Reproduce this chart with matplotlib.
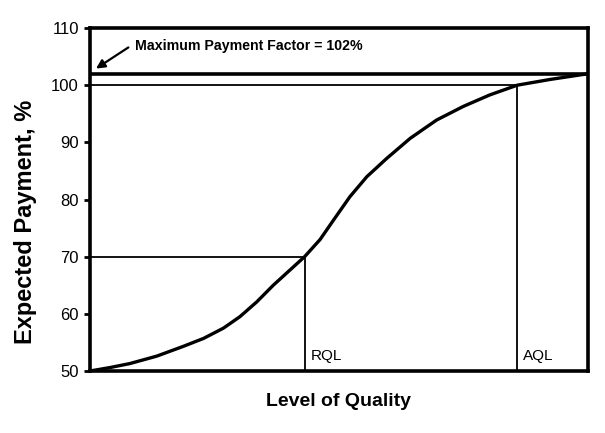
import matplotlib
matplotlib.use("Agg")
import matplotlib.pyplot as plt

plt.rcParams["font.family"] = ["Liberation Sans", "DejaVu Sans"]

# quality level (0-100 across the axis) vs expected payment (%)
quality = [0, 4.0, 8.0, 13.4, 18.7, 22.8, 26.8, 30.1, 33.5, 36.8, 40.2, 43.1,
           46.2, 48.9, 52.2, 55.6, 59.6, 64.3, 69.6, 75.0, 80.3, 85.8, 92.4, 100]
payment = [50, 50.6, 51.3, 52.6, 54.3, 55.7, 57.5, 59.5, 62.1, 65.0, 67.7, 70.0,
           73.0, 76.4, 80.5, 84.0, 87.2, 90.7, 93.9, 96.3, 98.3, 100.0, 101.0, 102.0]

rql_x, rql_y = 43.1, 70
aql_x, aql_y = 85.8, 100
max_pf = 102
yticks = [50, 60, 70, 80, 90, 100, 110]

fig = plt.figure(figsize=(6.05, 4.33), dpi=100)
ax = fig.add_axes([90 / 605, 62 / 433, 498 / 605, 343 / 433])

ax.plot(quality, payment, color="black", lw=2.4, solid_joinstyle="round",
        solid_capstyle="round")

# reference lines
ax.plot([0, rql_x], [rql_y, rql_y], color="black", lw=1.3)
ax.plot([rql_x, rql_x], [50, rql_y], color="black", lw=1.3)
ax.plot([0, aql_x], [aql_y, aql_y], color="black", lw=1.3)
ax.plot([aql_x, aql_x], [50, aql_y], color="black", lw=1.3)
ax.axhline(max_pf, color="black", lw=2.6)

ax.text(rql_x + 1.2, 52.6, "RQL", fontsize=11, va="center")
ax.text(aql_x + 1.2, 52.6, "AQL", fontsize=11, va="center")

ax.text(9.0, 106.9, "Maximum Payment Factor = 102%", fontsize=10.2,
        fontweight="bold", va="center")
ax.annotate("", xy=(1.2, 102.9), xytext=(7.7, 106.6),
            arrowprops=dict(arrowstyle="-|>", color="black", lw=1.6,
                            shrinkA=0, shrinkB=0, mutation_scale=13))

ax.set_xlim(0, 100)
ax.set_ylim(50, 110)
ax.set_yticks(yticks)
ax.set_xticks([])
ax.tick_params(axis="y", length=4, width=2, labelsize=12, pad=4)
for s in ax.spines.values():
    s.set_linewidth(2.6)

ax.set_ylabel("Expected Payment, %", fontsize=17, fontweight="bold")
ax.yaxis.set_label_coords(-0.106, 0.434)
ax.set_xlabel("Level of Quality", fontsize=14, fontweight="bold", labelpad=16)

fig.savefig("out.png", dpi=100)
